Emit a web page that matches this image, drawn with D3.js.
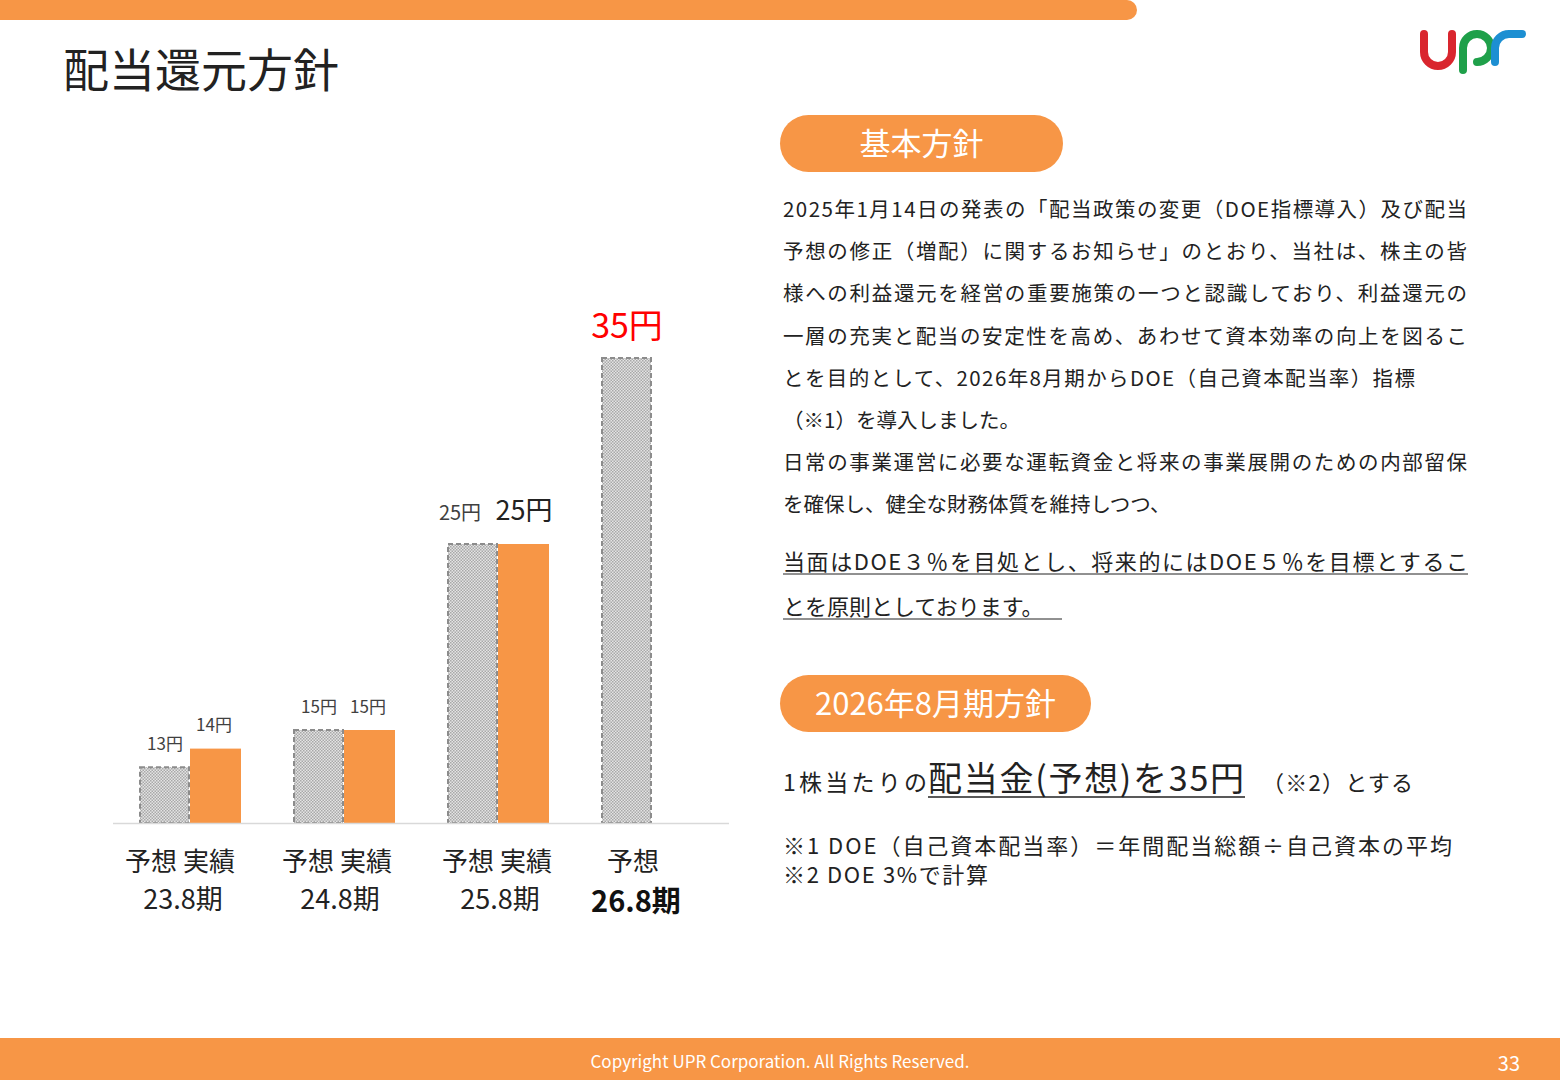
<!DOCTYPE html><html><head><meta charset="utf-8">
<script src="https://cdn.jsdelivr.net/npm/d3@7"></script>
<style>body{margin:0;background:#fff}svg{display:block}</style></head><body>
<script>
const periods=["23.8期","24.8期","25.8期","26.8期"];
const forecast=[13,15,25,35];
const actual=[14,15,25,null];
const forecastLabels=["13円","15円","25円","35円"];
const actualLabels=["14円","15円","25円",null];
const bodyLines=["2025年1月14日の発表の「配当政策の変更（DOE指標導入）及び配当","予想の修正（増配）に関するお知らせ」のとおり、当社は、株主の皆","様への利益還元を経営の重要施策の一つと認識しており、利益還元の","一層の充実と配当の安定性を高め、あわせて資本効率の向上を図るこ","とを目的として、2026年8月期からDOE（自己資本配当率）指標","（※1）を導入しました。","日常の事業運営に必要な運転資金と将来の事業展開のための内部留保","を確保し、健全な財務体質を維持しつつ、"];
const F="'Noto Sans CJK JP','Noto Sans',sans-serif";
const svg=d3.select("body").append("svg").attr("width",1560).attr("height",1080).style("font-family",F);
const defs=svg.append("defs");
const p=defs.append("pattern").attr("id","dots").attr("width",3).attr("height",3).attr("patternUnits","userSpaceOnUse");
p.append("rect").attr("width",3).attr("height",3).attr("fill","#e4e4e4");
p.append("rect").attr("width",1.5).attr("height",1.5).attr("fill","#a8a8a8");
p.append("rect").attr("x",1.5).attr("y",1.5).attr("width",1.5).attr("height",1.5).attr("fill","#a8a8a8");
const OR="#f79646";
svg.append("path").attr("d","M0,0H1127A10,10 0 0 1 1127,20H0Z").attr("fill",OR);
svg.append("rect").attr("y",1038).attr("width",1560).attr("height",42).attr("fill",OR);
svg.append("text").attr("x",780).attr("y",1068).attr("text-anchor","middle").attr("fill","#fff").attr("font-size",17).text("Copyright UPR Corporation. All Rights Reserved.");
svg.append("text").attr("x",1520).attr("y",1071).attr("text-anchor","end").attr("fill","#fff").attr("font-size",20).text("33");
svg.append("text").attr("x",63).attr("y",87).attr("font-size",46).attr("fill","#222").text("配当還元方針");
const lg=svg.append("g").attr("fill","none").attr("stroke-width",8).attr("stroke-linecap","round");
lg.append("path").attr("d","M1424,34V52A14,14 0 0 0 1452,52V34").attr("stroke","#d9262e");
lg.append("path").attr("d","M1463,70V48A14,14 0 1 1 1477,62").attr("stroke","#1fa04a");
lg.append("path").attr("d","M1495,62V48A14,14 0 0 1 1509,34H1522").attr("stroke","#1d8fd2");
const y=d3.scaleLinear().domain([10,35]).range([823,358]);
const bw=50;
const cx=[190,344,498,627];
const g=svg.append("g");
periods.forEach((d,i)=>{
  const fx=actual[i]==null?cx[i]-25:cx[i]-bw;
  g.append("rect").attr("x",fx).attr("y",y(forecast[i])).attr("width",bw-1).attr("height",823-y(forecast[i])).attr("fill","url(#dots)").attr("stroke","#8c8c8c").attr("stroke-width",2).attr("stroke-dasharray","5,3");
  if(actual[i]!=null) g.append("rect").attr("x",cx[i]).attr("y",y(actual[i])).attr("width",bw+1).attr("height",823-y(actual[i])).attr("fill",OR);
});
g.append("line").attr("x1",113).attr("x2",729).attr("y1",823.5).attr("y2",823.5).attr("stroke","#d9d9d9").attr("stroke-width",1.5);
const lab=(t,xx,yy,s,c)=>svg.append("text").attr("x",xx).attr("y",yy).attr("text-anchor","middle").attr("font-size",s).attr("fill",c||"#404040").text(t);
lab(forecastLabels[0],165,750,17);lab(actualLabels[0],214,731,17);
lab(forecastLabels[1],319,713,17);lab(actualLabels[1],368,713,17);
lab(forecastLabels[2],460,520,20);lab(actualLabels[2],524,520,27,"#222");
lab(forecastLabels[3],627,338,34,"#ff0000");
const xl=[[180,"予想 実績"],[337,"予想 実績"],[497,"予想 実績"],[633,"予想"]];
xl.forEach((d,i)=>{lab(d[1],d[0],871,26,"#222");});
[183,340,500].forEach((xx,i)=>lab(periods[i],xx,909,27,"#222"));
lab(periods[3],636,912,29,"#111").attr("font-weight","bold");
const pill=(xx,yy,w,t)=>{svg.append("rect").attr("x",xx).attr("y",yy).attr("width",w).attr("height",57).attr("rx",28.5).attr("fill",OR);
 svg.append("text").attr("x",xx+w/2).attr("y",yy+40).attr("text-anchor","middle").attr("fill","#fff").attr("font-size",31).text(t);};
pill(780,115,283,"基本方針");pill(780,675,311,"2026年8月期方針");
const ys=[217,259,301,344,386,428,470,512];
const tl=[684,684,684,684,632,null,684,null];
bodyLines.forEach((t,i)=>{const e=svg.append("text").attr("x",783).attr("y",ys[i]).attr("font-size",20.5).attr("fill","#222").text(t); if(tl[i]) e.attr("textLength",tl[i]);});
svg.append("text").attr("x",783).attr("y",570).attr("font-size",22).attr("fill","#222").attr("textLength",685).text("当面はDOE３％を目処とし、将来的にはDOE５％を目標とするこ");
svg.append("text").attr("x",783).attr("y",615).attr("font-size",22).attr("fill","#222").text("とを原則としております。");
svg.append("line").attr("x1",783).attr("x2",1468).attr("y1",574).attr("y2",574).attr("stroke","#222");
svg.append("line").attr("x1",783).attr("x2",1062).attr("y1",619).attr("y2",619).attr("stroke","#222");
svg.append("text").attr("x",783).attr("y",791).attr("fill","#222").attr("font-size",23).attr("textLength",144).text("1株当たりの");
svg.append("text").attr("x",928).attr("y",791).attr("fill","#222").attr("font-size",34).attr("textLength",316).text("配当金(予想)を35円");
svg.append("line").attr("x1",928).attr("x2",1245).attr("y1",797).attr("y2",797).attr("stroke","#222").attr("stroke-width",1.5);
svg.append("text").attr("x",1262).attr("y",791).attr("fill","#222").attr("font-size",22).attr("textLength",151).text("（※2）とする");
svg.append("text").attr("x",783).attr("y",854).attr("font-size",22).attr("fill","#222").attr("textLength",669).text("※1 DOE（自己資本配当率）＝年間配当総額÷自己資本の平均");
svg.append("text").attr("x",783).attr("y",883).attr("font-size",22).attr("fill","#222").attr("textLength",205).text("※2 DOE 3%で計算");
</script></body></html>
